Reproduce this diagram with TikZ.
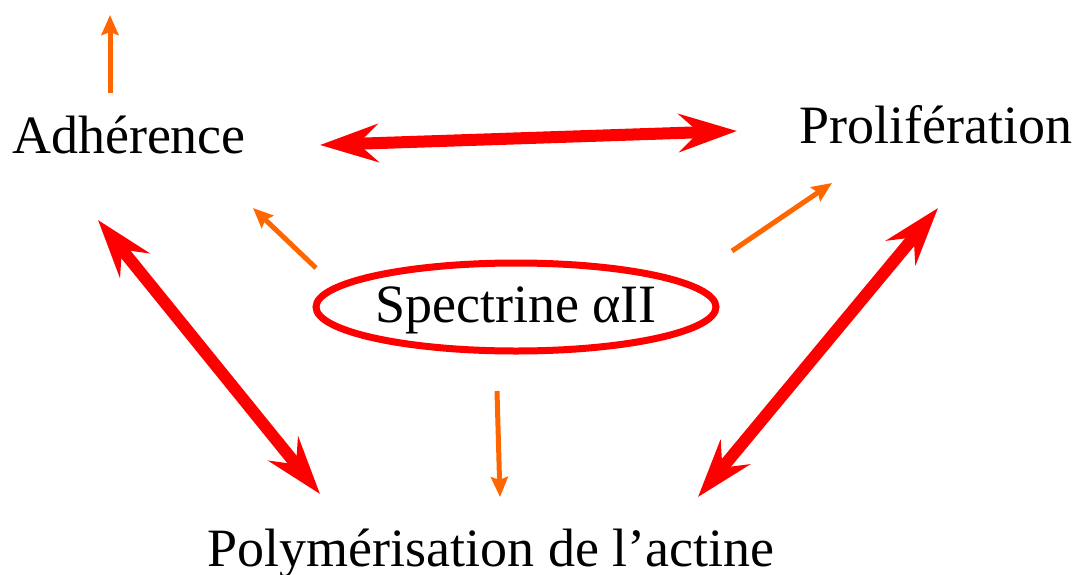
\documentclass[tikz,border=0pt]{standalone}
\usepackage{fontspec}
\setmainfont{Liberation Serif}
\usetikzlibrary{arrows.meta,shapes.geometric}
\definecolor{myred}{HTML}{FF0000}
\definecolor{myorange}{HTML}{FF6600}
\tikzset{
  lbl/.style={inner sep=0pt, anchor=base, font=\fontsize{54}{60}\selectfont},
  bigarrow/.style={draw=myred, line width=12pt, {Stealth[length=58pt,width=38pt,inset=20pt]}-{Stealth[length=58pt,width=38pt,inset=20pt]}, shorten <=0pt, shorten >=0pt},
  smallarrow/.style={draw=myorange, line width=5pt, -{Stealth[length=20pt,width=17pt,inset=3pt]}},
}
\begin{document}
\begin{tikzpicture}[x=1pt,y=-1pt]
\useasboundingbox (0,0) rectangle (1077,574);
\node[lbl] (adh) at (129,153) {Adhérence};
\node[lbl] (prol) at (936,143) {Prolifération};
\node[lbl] (poly) at (491,566) {Polymérisation de l’actine};
\node[ellipse, draw=myred, line width=7pt, minimum width=400pt, minimum height=88pt, inner sep=0pt] (spec) at (516,307) {};
\node[lbl] (spectxt) at (516,322) {Spectrine αII};
% coordinates
\coordinate (a1s) at (110,93);  \coordinate (a1e) at (110,15);
\coordinate (a2s) at (316,268); \coordinate (a2e) at (253,208);
\coordinate (a3s) at (732,251); \coordinate (a3e) at (832,183);
\coordinate (a4s) at (497,391); \coordinate (a4e) at (500,497);
\coordinate (r1a) at (320,145); \coordinate (r1b) at (737,131);
\coordinate (r2a) at (98,220);  \coordinate (r2b) at (320,494);
\coordinate (r3a) at (938,208); \coordinate (r3b) at (698,497);
\draw[smallarrow] (a1s) -- (a1e);
\draw[smallarrow] (a2s) -- (a2e);
\draw[smallarrow] (a3s) -- (a3e);
\draw[smallarrow] (a4s) -- (a4e);
\draw[bigarrow] (r1a) -- (r1b);
\draw[bigarrow] (r2a) -- (r2b);
\draw[bigarrow] (r3a) -- (r3b);
\end{tikzpicture}
\end{document}
